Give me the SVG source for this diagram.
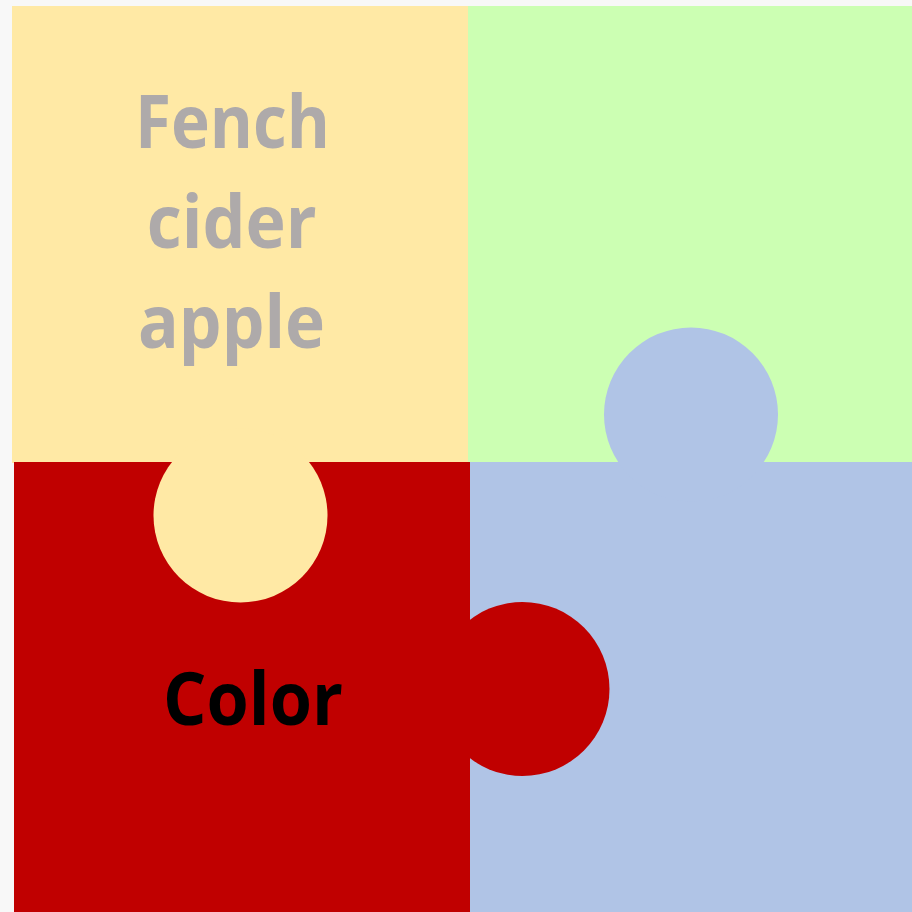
<svg xmlns="http://www.w3.org/2000/svg" width="912" height="912" viewBox="0 0 912 912">
  <style>
    .lbl { font-family: "Open Sans", Lato, "Liberation Sans", sans-serif; font-weight: bold; font-size: 74px; text-anchor: middle; }
    .gray { fill: #AEAAAA; }
    .dark { fill: #000000; }
  </style>
  <rect x="0" y="0" width="912" height="912" fill="#F8F8F8"/>
  <g id="piece-green">
    <rect x="468" y="6" width="444" height="456" fill="#CCFFB3"/>
  </g>
  <g id="piece-yellow">
    <rect x="12" y="6" width="456" height="457" fill="#FFE9A5"/>
  </g>
  <g id="piece-blue">
    <rect x="470" y="462" width="442" height="450" fill="#B0C4E6"/>
    <circle cx="691" cy="414.5" r="87" fill="#B0C4E6"/>
  </g>
  <g id="piece-red">
    <rect x="14" y="462" width="456" height="450" fill="#C00000"/>
    <circle cx="522.5" cy="689" r="87" fill="#C00000"/>
    <circle cx="240.5" cy="515.5" r="87" fill="#FFE9A5"/>
  </g>
  <g id="label-fench">
    <text class="lbl gray" x="232.5" y="148" textLength="195" lengthAdjust="spacingAndGlyphs">Fench</text>
    <text class="lbl gray" x="231.7" y="248" textLength="170" lengthAdjust="spacingAndGlyphs">cider</text>
    <text class="lbl gray" x="231.5" y="348" textLength="187" lengthAdjust="spacingAndGlyphs">apple</text>
  </g>
  <g id="label-color">
    <text class="lbl dark" x="253" y="725" textLength="180" lengthAdjust="spacingAndGlyphs">Color</text>
  </g>
  <g id="connectors"/>
</svg>
